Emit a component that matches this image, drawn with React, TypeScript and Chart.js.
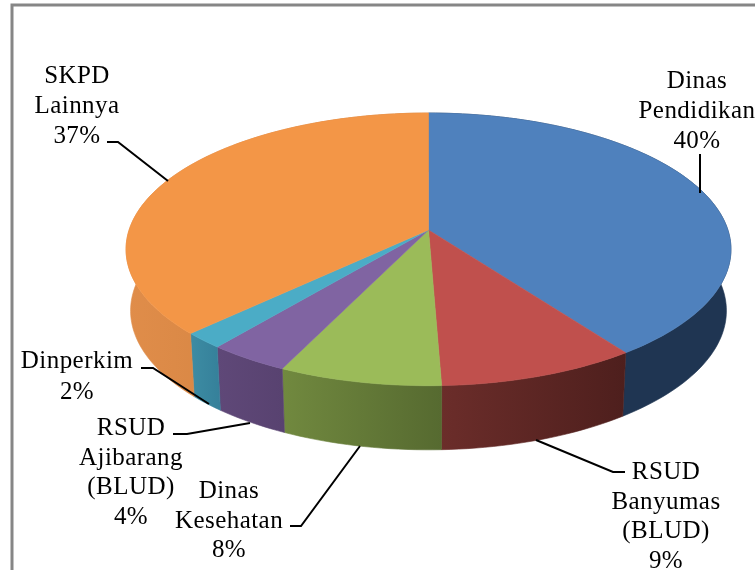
import React, { useEffect, useRef } from "react";
import { Chart, registerables } from "chart.js";

Chart.register(...registerables);

const categories = ["Dinas Pendidikan", "RSUD Banyumas (BLUD)", "Dinas Kesehatan", "RSUD Ajibarang (BLUD)", "Dinperkim", "SKPD Lainnya"];
const shares = [40.1, 9.3, 7.6, 3.8, 1.9, 37.3];
const labelLines = [
  ["Dinas", "Pendidikan"],
  ["RSUD", "Banyumas", "(BLUD)"],
  ["Dinas", "Kesehatan"],
  ["RSUD", "Ajibarang", "(BLUD)"],
  ["Dinperkim"],
  ["SKPD", "Lainnya"],
];
const topColors = ["#4f81bd", "#c0504d", "#9bbb59", "#8064a2", "#4bacc6", "#f39647"];
const wallColors = [
  ["#1f3552", "#1f3552"],
  ["#6b2d2a", "#4e1f1d"],
  ["#71893f", "#566a30"],
  ["#5f4878", "#584270"],
  ["#3d8ca3", "#35809a"],
  ["#e08d4a", "#c77a38"],
];
// label anchor: centre x, first baseline, line step; leader polyline
const labelLayout = [
  { x: 697, y: 88, step: 30, leader: [[700, 154], [700, 193]] },
  { x: 666, y: 479, step: 29.5, leader: [[625, 472], [613, 472], [536, 440]] },
  { x: 229, y: 498, step: 29.5, leader: [[290, 526], [301, 526], [360, 446]] },
  { x: 131, y: 435, step: 29.5, leader: [[173, 434], [187, 434], [250, 423]] },
  { x: 77, y: 368, step: 31, leader: [[141, 368], [153, 368], [209, 404]] },
  { x: 77, y: 83, step: 30, leader: [[107, 142], [118, 142], [168, 181]] },
];

const APEX_X = 428.5;
const APEX_Y = 230;
const RX = 299.4;
const RY = 133.6;
const PERSP = 0.142;
const WALL_X = 0.985;
const WALL_DY = 61;
const WALL_YS = 1.02;

function topPoint(angle: number): [number, number] {
  const t = angle + Math.PI / 2;
  const u = Math.sin(t);
  const v = -Math.cos(t);
  const d = 1 - PERSP * v;
  return [APEX_X + (RX * u) / d, APEX_Y + (RY * v) / d];
}
function wallPoint(angle: number): [number, number] {
  const [x, y] = topPoint(angle);
  return [APEX_X + (x - APEX_X) * WALL_X, APEX_Y + WALL_DY + (y - APEX_Y) * WALL_YS];
}

const pie3d = {
  id: "pie3d",
  beforeDraw(chart: any) {
    const ctx = chart.ctx;
    ctx.save();
    ctx.fillStyle = "#ffffff";
    ctx.fillRect(0, 0, chart.width, chart.height);
    ctx.strokeStyle = "#868686";
    ctx.lineWidth = 3;
    ctx.strokeRect(12, 5, chart.width + 20, chart.height + 20);
    ctx.restore();
  },
  beforeDatasetDraw(chart: any) {
    const ctx = chart.ctx;
    const arcs = chart.getDatasetMeta(0).data;
    const STEPS = 120;
    ctx.save();
    arcs.forEach((arc: any, i: number) => {
      const a0 = arc.startAngle;
      const a1 = arc.endAngle;
      const n = Math.max(4, Math.ceil((STEPS * (a1 - a0)) / Math.PI));
      const tops: [number, number][] = [];
      const bots: [number, number][] = [];
      for (let k = 0; k <= n; k++) {
        const a = a0 + ((a1 - a0) * k) / n;
        tops.push(topPoint(a));
        bots.push(wallPoint(a));
      }
      const xs = tops.concat(bots).map((p) => p[0]);
      const g = ctx.createLinearGradient(Math.min(...xs), 0, Math.max(...xs), 0);
      g.addColorStop(0, wallColors[i][0]);
      g.addColorStop(1, wallColors[i][1]);
      ctx.fillStyle = g;
      ctx.strokeStyle = g;
      ctx.lineWidth = 0.6;
      // a wall is a strip between the rim and the lower rim
      ctx.beginPath();
      tops.forEach((p, k) => (k ? ctx.lineTo(p[0], p[1]) : ctx.moveTo(p[0], p[1])));
      bots.slice().reverse().forEach((p) => ctx.lineTo(p[0], p[1]));
      ctx.closePath();
      ctx.fill();
      ctx.stroke();
    });
    arcs.forEach((arc: any) => {
      const a0 = arc.startAngle;
      const a1 = arc.endAngle;
      const n = Math.max(4, Math.ceil((STEPS * (a1 - a0)) / Math.PI));
      ctx.beginPath();
      ctx.moveTo(APEX_X, APEX_Y);
      for (let k = 0; k <= n; k++) {
        const p = topPoint(a0 + ((a1 - a0) * k) / n);
        ctx.lineTo(p[0], p[1]);
      }
      ctx.closePath();
      ctx.fillStyle = arc.options.backgroundColor;
      ctx.strokeStyle = arc.options.backgroundColor;
      ctx.lineWidth = 0.6;
      ctx.fill();
      ctx.stroke();
    });
    ctx.restore();
    return false;
  },
  afterDatasetsDraw(chart: any) {
    const ctx = chart.ctx;
    ctx.save();
    ctx.fillStyle = "#000000";
    ctx.strokeStyle = "#000000";
    ctx.lineWidth = 2;
    ctx.font = '25px "Liberation Serif"';
    ctx.letterSpacing = "0.45px";
    ctx.textAlign = "center";
    ctx.textBaseline = "alphabetic";
    labelLayout.forEach((l, i) => {
      const lines = [...labelLines[i], `${Math.round(shares[i])}%`];
      lines.forEach((s, k) => ctx.fillText(s, l.x, l.y + k * l.step));
      ctx.beginPath();
      l.leader.forEach((p, k) => (k ? ctx.lineTo(p[0], p[1]) : ctx.moveTo(p[0], p[1])));
      ctx.stroke();
    });
    ctx.restore();
  },
};

export default function App() {
  const ref = useRef<HTMLCanvasElement>(null);
  useEffect(() => {
    const chart = new Chart(ref.current!, {
      type: "pie",
      data: {
        labels: categories,
        datasets: [{ data: shares, backgroundColor: topColors, borderWidth: 0 }],
      },
      options: {
        animation: false,
        responsive: false,
        plugins: { legend: { display: false }, tooltip: { enabled: false } },
      },
      plugins: [pie3d],
    } as any);
    return () => chart.destroy();
  }, []);
  return (
    <canvas
      ref={ref}
      width={755}
      height={570}
      style={{ position: "fixed", left: 0, top: 0, width: 755, height: 570, display: "block" }}
    />
  );
}
